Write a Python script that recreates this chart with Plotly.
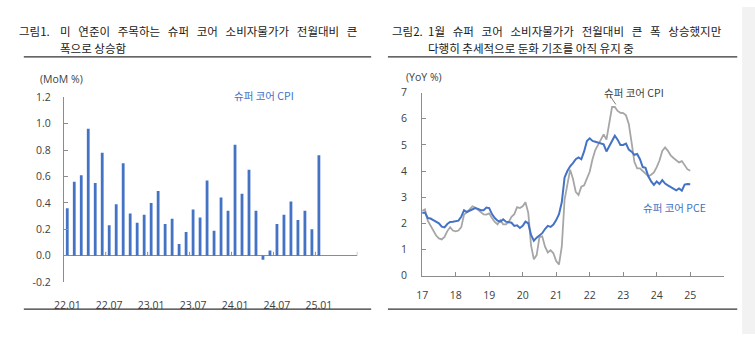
import plotly.graph_objects as go

W, H = 755, 341

# ---------------- data: left chart (MoM %, super core CPI) ----------------
mom_months = ["22.01", "22.02", "22.03", "22.04", "22.05", "22.06", "22.07", "22.08", "22.09", "22.10", "22.11", "22.12",
              "23.01", "23.02", "23.03", "23.04", "23.05", "23.06", "23.07", "23.08", "23.09", "23.10", "23.11", "23.12",
              "24.01", "24.02", "24.03", "24.04", "24.05", "24.06", "24.07", "24.08", "24.09", "24.10", "24.11", "24.12",
              "25.01"]
mom_values = [0.36, 0.56, 0.61, 0.96, 0.55, 0.78, 0.23, 0.39, 0.70, 0.32, 0.25, 0.31,
              0.40, 0.49, 0.24, 0.28, 0.09, 0.18, 0.35, 0.29, 0.57, 0.19, 0.44, 0.34,
              0.84, 0.47, 0.65, 0.34, -0.03, 0.04, 0.24, 0.31, 0.41, 0.27, 0.34, 0.20,
              0.76]
mom_extra_months = ["25.02", "25.03", "25.04", "25.05", "25.06"]
mom_ticks = ["22.01", "22.07", "23.01", "23.07", "24.01", "24.07", "25.01"]

# ---------------- data: right chart (YoY %) ----------------
yoy_start_year = 2017
cpi_yoy = [2.47, 2.53, 2.10, 1.90, 1.70, 1.53, 1.42, 1.38, 1.48, 1.70, 1.85, 1.72,
           1.69, 1.72, 1.85, 2.33, 2.42, 2.55, 2.65, 2.60, 2.52, 2.42, 2.34, 2.33,
           2.38, 2.20, 2.05, 1.96, 2.12, 1.96, 1.96, 2.05, 2.25, 2.35, 2.62, 2.58,
           2.65, 2.80, 2.40, 1.15, 0.62, 0.78, 1.47, 1.50, 1.10, 0.88, 0.97, 0.85,
           0.55, 0.42, 1.10, 2.90, 3.50, 4.05, 3.70, 3.20, 3.08, 3.40, 3.45, 3.70,
           3.97, 4.45, 4.80, 5.00, 5.22, 5.40, 5.20, 5.85, 6.45, 6.45, 6.30, 6.23,
           6.22, 6.13, 5.80, 5.10, 4.35, 4.10, 4.10, 4.00, 3.90, 3.80, 3.86, 3.95,
           4.15, 4.40, 4.77, 4.90, 4.77, 4.60, 4.50, 4.40, 4.33, 4.38, 4.22, 4.07,
           4.01]
pce_yoy = [2.39, 2.41, 2.20, 2.18, 2.12, 2.06, 2.00, 1.87, 1.84, 1.97, 2.05, 2.06,
           2.07, 2.10, 2.25, 2.50, 2.43, 2.48, 2.55, 2.58, 2.55, 2.50, 2.50, 2.60,
           2.58, 2.35, 2.20, 2.10, 2.06, 2.15, 2.06, 2.04, 2.02, 1.90, 1.92, 1.82,
           1.90, 2.06, 2.00, 1.55, 1.33, 1.45, 1.53, 1.62, 1.78, 1.90, 1.86, 1.95,
           2.12, 2.35, 2.80, 3.75, 4.00, 4.18, 4.30, 4.45, 4.52, 4.45, 4.75, 5.15,
           5.25, 5.15, 5.12, 5.08, 5.04, 5.02, 4.75, 4.95, 5.15, 5.35, 5.20, 5.00,
           5.00, 5.05, 4.82, 4.74, 4.62, 4.65, 4.45, 4.15, 4.12, 3.80, 3.60, 3.47,
           3.60, 3.50, 3.65, 3.52, 3.45, 3.38, 3.33, 3.26, 3.33, 3.25, 3.48, 3.50,
           3.49]
yoy_tick_years = [2017, 2018, 2019, 2020, 2021, 2022, 2023, 2024, 2025, 2026]
yoy_tick_text = ["17", "18", "19", "20", "21", "22", "23", "24", "25", ""]

BLUE = "#4472C4"
GREY = "#A6A6A6"
AXIS = "#8C8C8C"
TXT = "#404040"
NUM_FONT = "Open Sans, Noto Sans CJK KR, sans-serif"
KR_FONT = "Noto Sans CJK KR, sans-serif"


def px(x):
    return x / W


def py(y):
    return 1 - y / H


def wide(s, n):
    # wider word gaps, as in the justified report title
    return s.replace(" ", "\u00a0" * n)


yoy_x = [yoy_start_year + i / 12 for i in range(len(cpi_yoy))]
all_months = mom_months + mom_extra_months

fig = go.Figure()
fig.add_trace(go.Bar(x=mom_months, y=mom_values, marker=dict(color=BLUE, line=dict(width=0)),
                     width=0.4, xaxis="x", yaxis="y", showlegend=False))
fig.add_trace(go.Scatter(x=yoy_x, y=cpi_yoy, mode="lines", line=dict(color=GREY, width=1.8),
                         xaxis="x2", yaxis="y2", showlegend=False))
fig.add_trace(go.Scatter(x=yoy_x, y=pce_yoy, mode="lines", line=dict(color=BLUE, width=2),
                         xaxis="x2", yaxis="y2", showlegend=False))

shapes = []
# separator lines
for x0, x1 in [(14, 366), (383, 737)]:
    for yy in (52, 315):
        shapes.append(dict(type="line", xref="paper", yref="paper", x0=px(x0), x1=px(x1),
                           y0=py(yy), y1=py(yy), line=dict(color="#333333", width=1.2)))
# grey band at right edge
shapes.append(dict(type="rect", xref="paper", yref="paper", x0=px(742), x1=1, y0=0, y1=1,
                   fillcolor="#F2F2F2", line=dict(width=0), layer="below"))
# category boundary ticks on the zero line of the left chart
for i in list(range(6, len(all_months), 6)) + [len(all_months)]:
    shapes.append(dict(type="line", xref="x", yref="y", x0=i - 0.5, x1=i - 0.5, y0=0, y1=0.03,
                       line=dict(color=AXIS, width=1)))
# leader line for right CPI label
shapes.append(dict(type="line", xref="x2", yref="y2", x0=2022.62, x1=2022.78, y0=6.85, y1=6.55,
                   line=dict(color="#7F7F7F", width=1)))

TS = 11.5
annotations = [
    dict(text="그림1.", x=px(7), y=py(25)),
    dict(text=wide("미 연준이 주목하는 슈퍼 코어 소비자물가가 전월대비 큰", 3), x=px(49), y=py(25)),
    dict(text="폭으로 상승함", x=px(49), y=py(43)),
    dict(text="그림2.", x=px(385), y=py(25)),
    dict(text=wide("1월 슈퍼 코어 소비자물가가 전월대비 큰 폭 상승했지만", 3), x=px(422), y=py(25)),
    dict(text="다행히 추세적으로 둔화 기조를 아직 유지 중", x=px(422), y=py(43)),
]
for a in annotations:
    a.update(xref="paper", yref="paper", xanchor="left", yanchor="middle", showarrow=False,
             font=dict(family=KR_FONT, size=TS, color="#1A1A1A"))

annotations += [
    dict(text="(MoM %)", x=px(28), y=py(75), xref="paper", yref="paper", xanchor="left",
         yanchor="middle", showarrow=False, font=dict(family=NUM_FONT, size=10.5, color=TXT)),
    dict(text="(YoY %)", x=px(399), y=py(73), xref="paper", yref="paper", xanchor="left",
         yanchor="middle", showarrow=False, font=dict(family=NUM_FONT, size=10.5, color=TXT)),
    dict(text="슈퍼 코어 CPI", x=px(257), y=py(92), xref="paper", yref="paper", xanchor="center",
         yanchor="middle", showarrow=False, font=dict(family=KR_FONT, size=10.5, color=BLUE)),
    dict(text="슈퍼 코어 CPI", x=px(632), y=py(89), xref="paper", yref="paper", xanchor="center",
         yanchor="middle", showarrow=False, font=dict(family=KR_FONT, size=10.5, color=TXT)),
    dict(text="슈퍼 코어 PCE", x=px(673), y=py(209), xref="paper", yref="paper", xanchor="center",
         yanchor="middle", showarrow=False, font=dict(family=KR_FONT, size=10.5, color=BLUE)),
]

fig.update_layout(
    width=W, height=H, margin=dict(l=0, r=0, t=0, b=0),
    paper_bgcolor="white", plot_bgcolor="rgba(0,0,0,0)",
    bargap=0.6,
    shapes=shapes, annotations=annotations,
    xaxis=dict(domain=[px(54.5), px(352)], type="category", categoryorder="array",
               categoryarray=all_months, range=[-0.5, len(all_months) - 0.5],
               tickmode="array", tickvals=mom_ticks, ticktext=mom_ticks,
               showline=False, showgrid=False, zeroline=False, ticks="",
               tickfont=dict(family=NUM_FONT, size=10.5, color=TXT), ticklabelstandoff=15,
               anchor="y"),
    yaxis=dict(domain=[py(287), py(94)], range=[-0.2, 1.2], tickmode="array",
               tickvals=[-0.2, 0, 0.2, 0.4, 0.6, 0.8, 1.0, 1.2],
               ticktext=["-0.2", "0.0", "0.2", "0.4", "0.6", "0.8", "1.0", "1.2"],
               showline=True, linecolor=AXIS, linewidth=1, ticks="inside", ticklen=4,
               tickcolor=AXIS, showgrid=False, zeroline=True, zerolinecolor=AXIS,
               zerolinewidth=1, tickfont=dict(family=NUM_FONT, size=10.5, color=TXT),
               ticklabelstandoff=10, anchor="x"),
    xaxis2=dict(domain=[px(417.7), px(723.3)], range=[2017, 2026], tickmode="array",
                tickvals=yoy_tick_years, ticktext=yoy_tick_text, showline=True, linecolor=AXIS,
                linewidth=1, ticks="inside", ticklen=4, tickcolor=AXIS, showgrid=False,
                zeroline=False, tickfont=dict(family=NUM_FONT, size=10.5, color=TXT),
                ticklabelstandoff=10, anchor="y2"),
    yaxis2=dict(domain=[py(280), py(89.3)], range=[0, 7], tickmode="array",
                tickvals=[0, 1, 2, 3, 4, 5, 6, 7], showline=True, linecolor=AXIS, linewidth=1,
                ticks="inside", ticklen=4, tickcolor=AXIS, showgrid=False, zeroline=False,
                tickfont=dict(family=NUM_FONT, size=10.5, color=TXT), ticklabelstandoff=12,
                anchor="x2"),
)

fig.write_html("out.html")
